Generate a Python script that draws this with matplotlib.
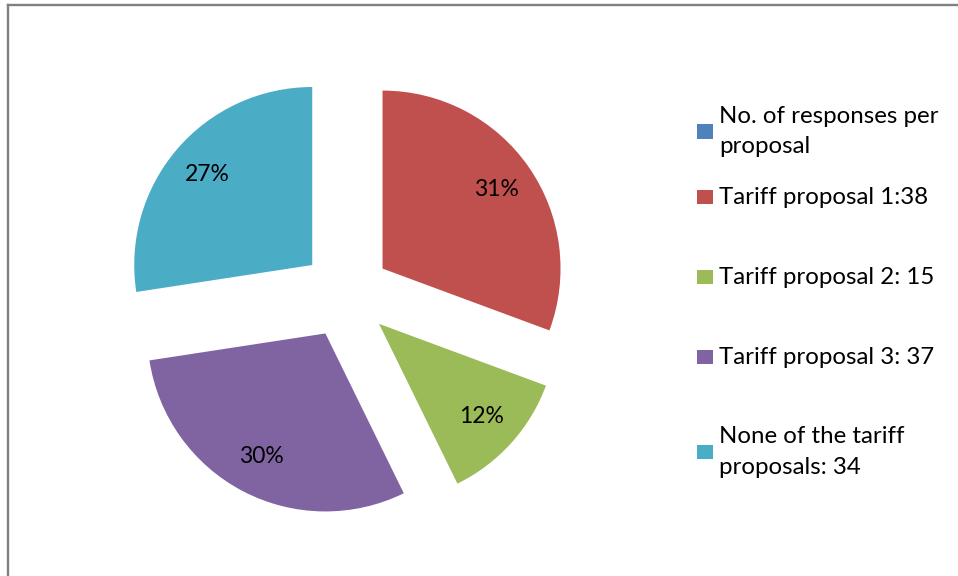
import matplotlib
matplotlib.use("Agg")
import matplotlib.pyplot as plt
import matplotlib.patches as mpatches
from matplotlib.lines import Line2D

W, H = 958, 576

labels = [
    "No. of responses per\nproposal",
    "Tariff proposal 1:38",
    "Tariff proposal 2: 15",
    "Tariff proposal 3: 37",
    "None of the tariff\nproposals: 34",
]
values = [0, 38, 15, 37, 34]
colors = ["#4F81BD", "#C0504D", "#9BBB59", "#8064A2", "#4BACC6"]
explode = [0.25, 0.25, 0.25, 0.25, 0.25]

plt.rcParams["font.family"] = ["Lato", "DejaVu Sans"]

fig = plt.figure(figsize=(W / 100, H / 100), dpi=100, facecolor="white")

# pie axes: centre at (346, 294) px, radius 178 px
cx, cy, r = 346, 294, 178
half = 260
ax = fig.add_axes([(cx - half) / W, (H - cy - half) / H, 2 * half / W, 2 * half / H])
lim = half / r


def pct(p):
    return f"{p:.0f}%" if p > 0 else ""


wedges, _, autotexts = ax.pie(
    values, colors=colors, explode=explode, startangle=90, counterclock=False,
    autopct=pct, pctdistance=0.78, textprops=dict(fontsize=16.5, color="black"),
)
ax.set_xlim(-lim, lim)
ax.set_ylim(-lim, lim)
ax.set_aspect("equal")
ax.axis("off")

# legend, placed by hand like the Excel layout
leg_y = [131.5, 197, 277, 357, 452]
for lab, col, y in zip(labels, colors, leg_y):
    fig.patches.append(mpatches.Rectangle(
        (697 / W, (H - y - 7) / H), 16 / W, 14 / H,
        transform=fig.transFigure, fc=col, ec="none",
    ))
    fig.text(719 / W, (H - y) / H, lab, fontsize=17.3, va="center", ha="left",
             linespacing=1.55)

# chart-area frame (only top and left edges visible)
fig.lines.append(Line2D([8 / W, 1.0], [(H - 5) / H] * 2, transform=fig.transFigure,
                        color="#808080", lw=1.7))
fig.lines.append(Line2D([8 / W] * 2, [0, (H - 5) / H], transform=fig.transFigure,
                        color="#808080", lw=1.7))

fig.savefig("out.png", dpi=100, facecolor="white")
